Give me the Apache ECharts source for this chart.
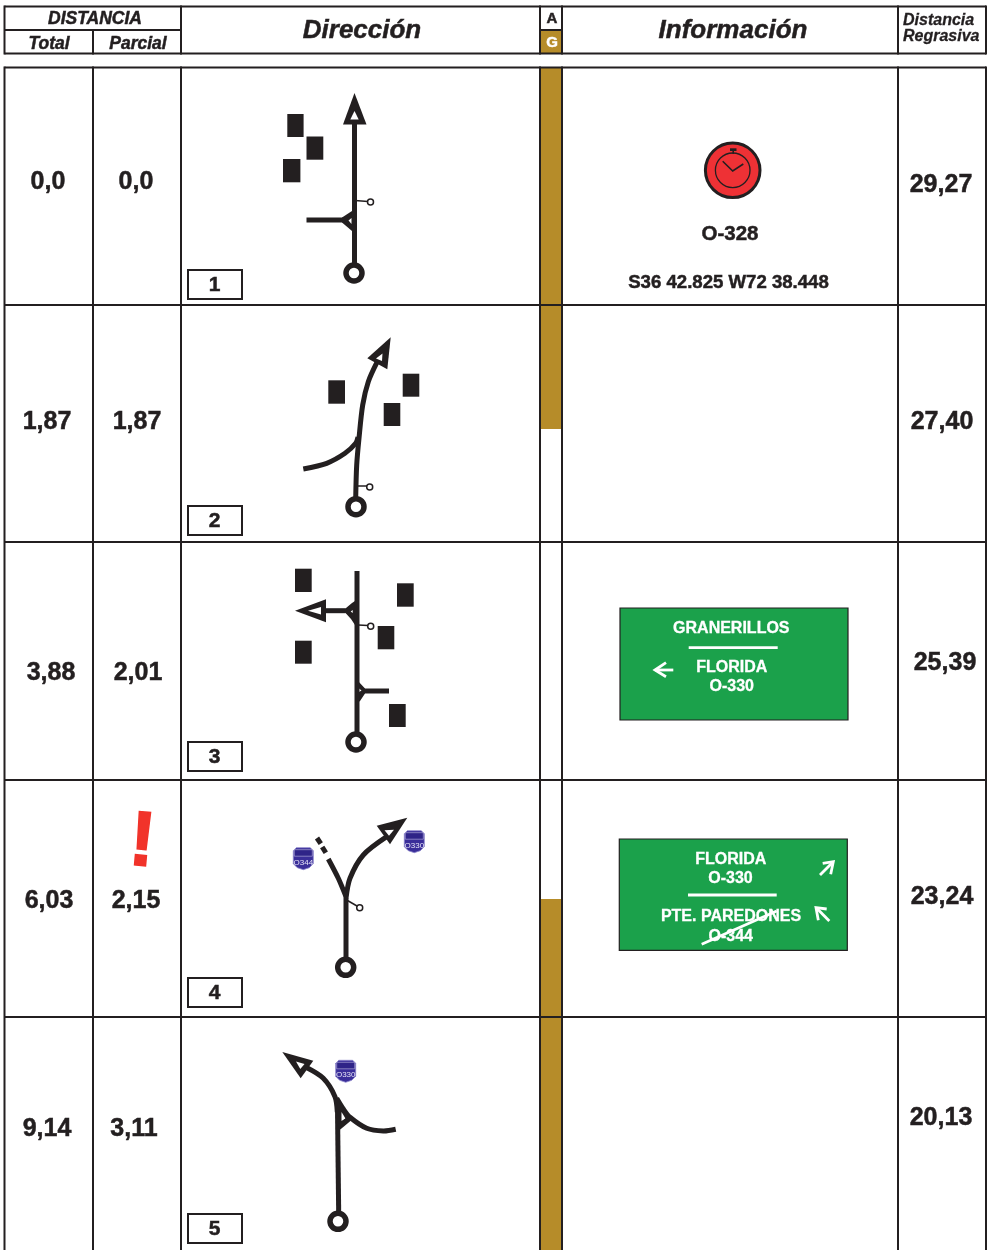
<!DOCTYPE html>
<html>
<head>
<meta charset="utf-8">
<style>html,body{margin:0;padding:0;background:#fff}#chart{width:988px;height:1250px}</style>
<script src="https://cdn.jsdelivr.net/npm/echarts@6/dist/echarts.min.js"></script>
</head>
<body>
<div id="chart"></div>
<script>
const totals = ['0,0', '1,87', '3,88', '6,03', '9,14'];
const partials = ['0,0', '1,87', '2,01', '2,15', '3,11'];
const regressive = ['29,27', '27,40', '25,39', '23,24', '20,13'];
const stepNumbers = ['1', '2', '3', '4', '5'];

// text anchors, same order as the lists above
const totalAt = [[48, 181], [47, 421], [51, 672], [49, 900], [47, 1128]];
const partialAt = [[136, 181], [137, 421], [138, 672], [136, 900], [134, 1128]];
const regressiveAt = [[941, 184], [942, 421], [945, 662], [942, 896], [941, 1117]];
const stepAt = [[214.5, 284], [214.5, 520], [214.5, 756], [214.5, 992], [214.5, 1228]];

// table rules
const colX = [4.5, 93, 181, 540, 562, 898, 986];
const rowY = [305, 542, 780, 1017];
const asphaltBands = [[540, 67, 562, 429], [540, 899, 562, 1250], [540, 30, 562, 53]];
const stepBoxes = [[188, 270, 242, 299], [188, 506, 242, 535], [188, 742, 242, 771], [188, 978, 242, 1007], [188, 1214, 242, 1243]];

// road diagrams
const buildings = [
  [287.3, 114, 303.6, 137], [306.5, 136.5, 323.3, 159.7], [283, 159, 300.4, 182.3],
  [328.3, 380.3, 345, 403.7], [402.7, 373.7, 419.3, 396.7], [383.7, 403, 400.3, 426],
  [295, 568.7, 311.7, 592], [397, 583.3, 413.7, 606.7], [377.7, 626, 394.3, 649.3],
  [295, 640.7, 311.7, 663.7], [389, 704, 405.7, 727]
];
const straightRoads = [
  [[354.5, 122], [354.5, 266]],
  [[306.5, 220], [344, 220]],
  [[357, 571], [357, 734]],
  [[325.7, 610.7], [348, 610.7]],
  [[362, 691], [389, 691]],
  [[346, 960], [346, 898]],
  [[325.8, 852.8], [322.2, 847]],
  [[320.8, 843.7], [317, 838]],
  [[338.7, 1214], [337.5, 1110]],
  [[338.7, 1127.5], [350, 1118]]
];
const curvedRoads = [
  [[355.7, 498], [356.7, 465], [359, 438.3], [362.7, 405], [368.3, 381.7], [377.3, 361.7]],
  [[303.3, 469], [326.7, 463.3], [345, 453.3], [355.7, 443.3], [358, 437]],
  [[346, 898.3], [350, 878.3], [363.3, 855], [386.7, 836.7]],
  [[346, 896.7], [338.3, 878.3], [328.3, 859]],
  [[337.3, 1112], [335, 1096.7], [323.3, 1078.3], [306, 1067.3]],
  [[336.7, 1098.3], [343.3, 1109], [350, 1117.3], [366.7, 1128.3], [383.3, 1131], [395.7, 1129.3]]
];
const arrowHeads = [
  [[354.5, 93], [343, 124.5], [366.5, 124.5]],
  [[390.7, 337.3], [367.3, 358.3], [387.3, 369.3]],
  [[295, 610.7], [326, 599.3], [326, 622.3]],
  [[407.3, 817.7], [376.7, 825.7], [390, 844.3]],
  [[282.3, 1052], [313.3, 1060.7], [300.7, 1078.3]]
];
const junctions = [
  [[342, 217.5], [352, 211], [354.5, 210], [354.5, 233], [352, 231], [342, 222.5]],
  [[346, 608], [352, 603], [355, 601], [355, 625], [351, 619], [346, 613.5]],
  [[355.7, 677], [358, 681], [365, 688.5], [365, 693.5], [360, 701], [355.7, 704]],
  [[337, 1100], [350, 1117], [340, 1127]]
];
const holes = [
  [[354.5, 111], [350.3, 119.5], [358.7, 119.5]],
  [[382.5, 353.5], [376, 358.5], [382, 361]],
  [[308, 610.7], [321, 607], [321, 614.5]],
  [[394, 829.8], [384.5, 830.2], [389, 835.8]],
  [[296, 1061.5], [304.5, 1064], [300.3, 1069]],
  [[348.5, 220.5], [351.5, 218], [351.5, 224]],
  [[350.7, 611.5], [352.7, 610], [352.7, 613]],
  [[359, 688.5], [361.5, 690.5], [359, 692]],
  [[341.5, 1112], [345.5, 1118.5], [341.5, 1121]]
];
const startRings = [[354, 273], [356, 506.7], [356, 742], [345.7, 967.3], [338, 1221.3]];
const checkRings = [[370.5, 202], [369.7, 487], [370.7, 626.3], [359.7, 907.7]];
const checkStems = [
  [[355, 200.5], [368, 201.5]], [[357, 486], [367, 486]], [[358, 625], [368, 625.5]], [[347.5, 900.5], [357, 906]]
];
const shieldCenters = [[303.3, 858.7], [414.3, 841.7], [345.7, 1071.3]];
const shieldCodes = ['O344', 'O330', 'O330'];
const shieldOutline = [[-10, -8], [-7, -11], [7, -11], [10, -8], [10, 5], [6, 9], [0, 11], [-6, 9], [-10, 5]];
const shieldBand = [[-9, -9], [9, -9], [9, -2.5], [-9, -2.5]];

// information column
const signBoxes = [[620, 608, 848, 720], [619.3, 839, 847.3, 950.3]];
const signLines = [
  [[688.7, 647.7], [777.7, 647.7]], [[688, 895], [776.7, 895]], [[701.7, 944.3], [776.7, 911]],
  [[673.3, 670], [655, 670]], [[666, 662.7], [655, 670], [666, 676.7]],
  [[820, 875], [833, 862]], [[822.7, 863.3], [833.3, 861.7], [830.7, 874.3]],
  [[829.3, 921], [816.5, 908]], [[826.7, 909], [816, 907.7], [818.3, 920.3]]
];
const signTexts = ['GRANERILLOS', 'FLORIDA', 'O-330', 'FLORIDA', 'O-330', 'PTE. PAREDONES', 'O-344'];
const signTextAt = [[731.3, 627], [731.7, 666], [731.7, 685], [730.7, 858], [730.5, 877], [731, 915.5], [730.7, 935]];
const watchHands = [[722.7, 161.3], [732.7, 171], [743.3, 164]];
const watchCrown = [[730, 148.3, 736.5, 151], [732.4, 151, 734, 154]];

const ink = '#231f20';
const font = '"Liberation Sans", Arial, sans-serif';
const base = { coordinateSystem: 'cartesian2d', silent: true, animation: false, clip: false };
// liberation sits a little high against the scanned page
const textDrop = 1.5;

function rects(name, list, style) {
  return {
    ...base, type: 'custom', name, data: list,
    renderItem: (params, api) => {
      const a = api.coord([api.value(0), api.value(1)]);
      const b = api.coord([api.value(2), api.value(3)]);
      return { type: 'rect', shape: { x: a[0], y: a[1], width: b[0] - a[0], height: b[1] - a[1] }, style };
    }
  };
}
function polys(name, list, style) {
  return {
    ...base, type: 'custom', name, data: list.map(p => p[0]),
    renderItem: (params, api) => ({
      type: 'polygon', shape: { points: list[params.dataIndex].map(p => api.coord(p)) }, style
    })
  };
}
function rings(name, list, r, style) {
  return {
    ...base, type: 'custom', name, data: list,
    renderItem: (params, api) => {
      const c = api.coord([api.value(0), api.value(1)]);
      return { type: 'circle', shape: { cx: c[0], cy: c[1], r }, style };
    }
  };
}
function texts(name, strings, at, fontStr, fill, align, heavy) {
  return {
    ...base, type: 'custom', name, data: at,
    renderItem: (params, api) => {
      const c = api.coord([api.value(0), api.value(1)]);
      return {
        type: 'text',
        style: {
          x: c[0], y: c[1] + textDrop, text: strings[params.dataIndex], font: fontStr, fill,
          align: align || 'center', verticalAlign: 'middle',
          stroke: fill, lineWidth: heavy === undefined ? 0.5 : heavy
        }
      };
    }
  };
}
function road(points, width, color) {
  return {
    ...base, type: 'line', data: points, symbol: 'none',
    lineStyle: { width, color, cap: 'butt', join: 'miter' }
  };
}
function curves(name, list, width, color) {
  return {
    ...base, type: 'custom', name, data: list.map(p => p[0]),
    renderItem: (params, api) => ({
      type: 'polyline',
      shape: { points: list[params.dataIndex].map(p => api.coord(p)), smooth: 0.3 },
      style: { fill: null, stroke: color, lineWidth: width, lineCap: 'butt' }
    })
  };
}

// table rules come first so the asphalt band sits over the row lines
const hRules = rowY.map(y => [[4.5, y], [986, y]]).concat([
  [[4.5, 6.5], [986, 6.5]], [[4.5, 53.5], [986, 53.5]], [[4.5, 67.5], [986, 67.5]],
  [[4.5, 30], [181, 30]], [[540, 30], [562, 30]]
]);
const vRules = colX.flatMap(x => [[[x, 5.5], [x, 54.5]], [[x, 66.5], [x, 1250]]])
  .filter(seg => !(seg[0][0] === 93 && seg[0][1] === 5.5))
  .concat([[[93, 30], [93, 54.5]]]);

const series = [
  ...hRules.map(s => road(s, 2, ink)),
  rects('asphalt', asphaltBands, { fill: '#b68c29' }),
  ...vRules.map(s => road(s, 2, ink)),

  rects('buildings', buildings, { fill: ink }),
  rects('steps', stepBoxes, { fill: '#fff', stroke: ink, lineWidth: 2 }),
  ...straightRoads.map(s => road(s, 5, ink)),
  curves('curvedRoads', curvedRoads, 5, ink),
  polys('junctions', junctions, { fill: ink }),
  polys('arrows', arrowHeads, { fill: ink }),
  polys('holes', holes, { fill: '#fff' }),
  rings('start', startRings, 8, { fill: '#fff', stroke: ink, lineWidth: 5.5 }),
  ...checkStems.map(s => road(s, 1.5, ink)),
  rings('check', checkRings, 3, { fill: '#fff', stroke: ink, lineWidth: 1.5 }),

  polys('shields', shieldCenters.map(c => shieldOutline.map(p => [c[0] + p[0], c[1] + p[1]])), { fill: '#3a2e99', stroke: '#8d86cc', lineWidth: 0.8 }),
  polys('shieldBands', shieldCenters.map(c => shieldBand.map(p => [c[0] + p[0], c[1] + p[1]])), { fill: '#2f2488', stroke: '#d8d5ef', lineWidth: 0.5 }),
  texts('shieldCodes', shieldCodes, shieldCenters.map(c => [c[0], c[1] + 2.3]), '8px ' + font, '#e6e4f6', 'center', 0),

  rects('signs', signBoxes, { fill: '#1ba14b', stroke: ink, lineWidth: 1.2 }),
  texts('signTexts', signTexts, signTextAt, 'bold 16px ' + font, '#fff', 'center', 0.3),
  ...signLines.map(s => road(s, 2.8, '#fff')),

  rings('watch', [[732.7, 170.3]], 27.3, { fill: '#ee3135', stroke: ink, lineWidth: 3 }),
  rings('dial', [[732.7, 170.3]], 17.3, { fill: 'transparent', stroke: ink, lineWidth: 1.3 }),
  road(watchHands, 1.6, ink),
  rects('crown', watchCrown, { fill: ink }),

  texts('total', totals, totalAt, 'bold 25px ' + font, ink),
  texts('partial', partials, partialAt, 'bold 25px ' + font, ink),
  texts('regressive', regressive, regressiveAt, 'bold 25px ' + font, ink),
  texts('step', stepNumbers, stepAt, 'bold 21px ' + font, ink),
  {
    ...base, type: 'custom', name: 'warning', data: [[142, 844]],
    renderItem: (params, api) => {
      const c = api.coord([api.value(0), api.value(1)]);
      return {
        type: 'text', x: c[0], y: c[1], rotation: -0.09,
        style: { x: 0, y: 0, text: '!', font: 'bold 78px ' + font, fill: '#f1332a', stroke: '#f1332a', lineWidth: 1.5, align: 'center', verticalAlign: 'middle' }
      };
    }
  },
  texts('headSmall', ['DISTANCIA', 'Total', 'Parcial'], [[95, 17.5], [49, 42.5], [138, 42.5]], 'italic bold 17.5px ' + font, ink),
  texts('headBig', ['Dirección', 'Información'], [[362, 29.5], [733, 29.5]], 'italic bold 26px ' + font, ink),
  texts('headA', ['A'], [[552, 17]], 'bold 15px ' + font, ink),
  texts('headG', ['G'], [[552, 41]], 'bold 15px ' + font, '#fff'),
  texts('headRest', ['Distancia', 'Regrasiva'], [[903, 19], [903, 35]], 'italic bold 16px ' + font, ink, 'left', 0.3),
  texts('route', ['O-328'], [[730, 233]], 'bold 20.5px ' + font, ink),
  texts('coords', ['S36 42.825 W72 38.448'], [[728.5, 281.5]], 'bold 18.6px ' + font, ink)
];

const chart = echarts.init(document.getElementById('chart'));
chart.setOption({
  animation: false,
  backgroundColor: '#fff',
  grid: { left: 0, right: 0, top: 0, bottom: 0 },
  xAxis: { type: 'value', min: 0, max: 988, show: false },
  yAxis: { type: 'value', min: 0, max: 1250, inverse: true, show: false },
  series
});
</script>
</body>
</html>
